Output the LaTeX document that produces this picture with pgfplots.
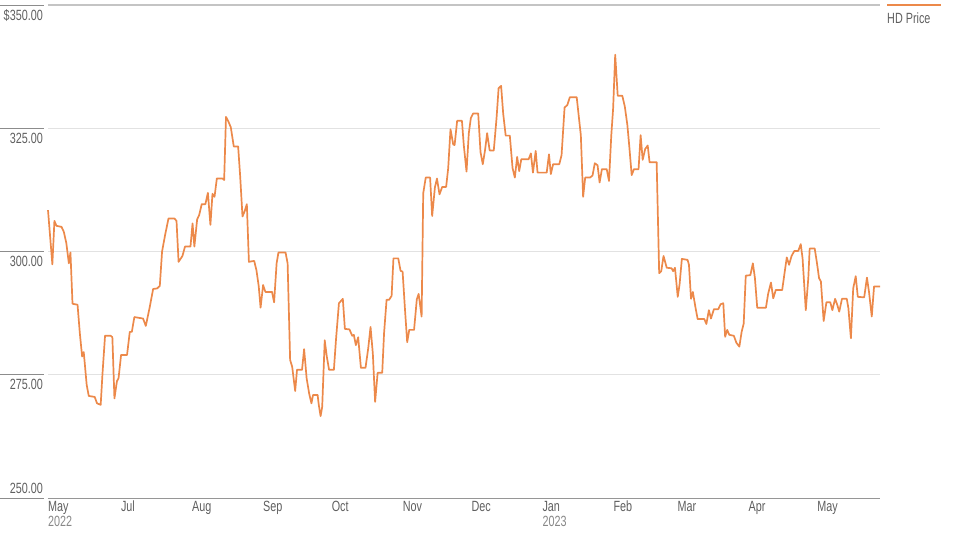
\documentclass[border=0pt]{standalone}
\usepackage{fontspec}
\setmainfont{Liberation Sans}[FakeStretch=0.73]
\usepackage{pgfplots}
\pgfplotsset{compat=1.18}
\definecolor{hdorange}{RGB}{236,137,74}
\definecolor{gridgray}{RGB}{226,226,226}
\definecolor{topgray}{RGB}{196,196,196}
\definecolor{tickgray}{RGB}{140,140,140}
\definecolor{labelgray}{RGB}{95,95,95}
\definecolor{yeargray}{RGB}{135,135,135}
\definecolor{axisgray}{RGB}{150,150,150}
\newcommand{\lbl}{\fontsize{14.8}{15.5}\selectfont}
\begin{document}
\begin{tikzpicture}
\useasboundingbox (0pt,0pt) rectangle (960pt,540pt);
\begin{axis}[
  at={(48pt,42pt)}, anchor=south west,
  scale only axis, width=832pt, height=493pt,
  xmin=29.2, xmax=392.4, ymin=250, ymax=350,
  axis x line*=bottom, axis y line*=left,
  x axis line style={draw=axisgray, line width=0.8pt},
  y axis line style={draw=none},
  major tick length=0pt,
  xtick={29.2,61,92,123,153,184,214,245,276,304,335,365},
  xticklabels={{May\\\textcolor{yeargray}{2022}},Jul,Aug,Sep,Oct,Nov,Dec,{Jan\\\textcolor{yeargray}{2023}},Feb,Mar,Apr,May},
  xticklabel style={anchor=north west, align=left, inner xsep=0pt, inner ysep=3pt, font=\lbl, text=labelgray},
  ytick={275,300,325,350},
  yticklabels={275.00,300.00,325.00,\$350.00},
  yticklabel style={anchor=north east, inner xsep=0pt, inner ysep=4.5pt, xshift=-5pt, font=\lbl, text=labelgray},
  extra y ticks={250},
  extra y tick labels={250.00},
  extra y tick style={yticklabel style={anchor=south east}, grid=none},
  ymajorgrids, grid style={draw=gridgray, line width=0.8pt},
  /pgf/number format/assume math mode=true,
  clip=false,
]
\draw[topgray, line width=1.6pt] (rel axis cs:0,1) -- (rel axis cs:1,1);
\addplot[hdorange, line width=1.7pt, line join=round] coordinates {
(29.2,308.4) (31.1,297.4) (32.0,306.2) (32.9,305.2) (35.1,305.0) (36.1,304.0) (37.2,301.7) (38.3,297.6) (39.0,299.8) (39.9,289.4)
(42.1,289.2) (43.1,283.4) (44.1,278.7) (44.8,279.6) (46.1,272.9) (47.0,270.7) (49.6,270.5) (50.6,269.2) (52.2,268.9) (53.0,275.3)
(54.1,282.9) (56.6,282.9) (57.3,282.6) (58.2,270.2) (59.3,273.7) (60.0,274.3) (61.1,279.0) (63.7,279.0) (64.9,283.7) (65.8,283.7)
(66.9,286.7) (70.7,286.4) (71.9,284.9) (73.6,288.7) (75.1,292.4) (76.8,292.5) (78.0,293.0) (79.0,300.0) (80.3,303.3) (81.8,306.7)
(84.4,306.7) (85.3,306.2) (86.2,297.9) (87.9,299.1) (89.0,301.0) (91.4,301.0) (92.3,305.7) (93.1,301.0) (94.3,306.5) (95.2,307.4)
(96.3,309.6) (97.9,309.6) (99.0,311.9) (100.1,305.4) (101.0,311.7) (101.9,311.1) (102.9,314.8) (105.4,314.8) (106.1,314.5) (106.9,327.3)
(108.0,326.3) (109.0,325.2) (110.3,321.3) (112.2,321.3) (113.1,315.2) (114.1,307.1) (115.0,308.1) (116.0,309.6) (116.9,297.9) (119.2,298.1)
(120.2,296.2) (121.2,292.9) (122.0,288.6) (123.1,293.2) (124.1,291.8) (127.0,291.8) (127.9,289.7) (129.0,297.6) (129.8,299.8) (132.9,299.8)
(133.8,297.6) (134.9,278.0) (135.8,276.6) (137.1,271.7) (137.9,276.0) (140.1,276.0) (141.0,280.2) (142.1,274.3) (143.2,271.2) (144.2,269.2)
(144.9,270.9) (146.9,270.9) (147.4,268.9) (148.2,266.6) (148.9,268.5) (150.0,282.0) (150.9,278.7) (151.9,276.0) (154.0,276.0) (154.9,282.0)
(156.2,289.5) (157.9,290.4) (158.8,284.3) (160.8,284.2) (162.0,282.9) (162.7,283.1) (163.6,281.0) (164.6,282.6) (165.8,276.4) (167.8,276.4)
(169.0,280.4) (170.0,284.7) (171.0,279.3) (172.0,269.5) (173.1,275.4) (175.1,275.4) (175.9,283.4) (177.0,290.2) (178.1,290.2) (179.2,291.0)
(180.0,298.6) (182.1,298.6) (183.1,296.1) (184.0,295.9) (185.0,288.5) (186.0,281.6) (186.9,284.1) (189.0,284.1) (190.2,290.3) (191.0,291.4)
(192.3,286.8) (193.0,311.8) (194.1,315.0) (196.0,315.0) (196.9,307.2) (198.1,313.0) (199.0,314.8) (200.1,311.6) (201.3,313.1) (203.0,313.1)
(203.9,316.9) (204.9,324.8) (206.1,321.7) (206.7,321.6) (207.8,326.5) (209.9,326.5) (210.7,321.6) (211.9,316.2) (212.9,324.0) (213.8,327.1)
(214.8,328.0) (217.0,328.0) (218.0,320.2) (219.0,317.7) (220.0,320.6) (220.9,324.0) (222.0,320.5) (223.8,320.5) (225.0,327.0) (225.9,333.1)
(227.0,333.6) (227.9,328.0) (229.0,323.5) (230.8,323.5) (232.0,316.9) (233.0,315.0) (234.0,319.2) (234.9,316.3) (235.8,318.7) (239.0,318.7)
(240.0,319.9) (240.9,316.0) (242.1,320.4) (242.9,316.0) (246.9,316.0) (247.9,319.7) (248.7,315.7) (249.7,317.7) (252.4,317.7) (253.4,319.6)
(254.7,329.2) (255.9,329.7) (257.0,331.3) (260.0,331.3) (261.0,327.0) (261.8,323.6) (262.8,311.1) (263.7,315.0) (265.8,315.0) (266.9,315.4)
(267.9,317.9) (269.1,317.5) (270.0,314.0) (271.0,316.7) (273.1,316.7) (274.1,314.3) (275.1,323.6) (275.9,329.0) (276.8,339.9) (277.9,331.6)
(279.9,331.6) (281.0,329.4) (282.1,325.7) (282.9,321.6) (284.0,315.5) (285.0,316.7) (287.0,316.7) (287.9,323.6) (288.8,318.6) (289.9,320.8)
(291.0,321.5) (291.8,318.1) (294.9,318.1) (296.0,295.6) (296.9,296.0) (297.9,299.1) (299.3,296.7) (301.4,296.6) (302.1,296.0) (302.9,296.7)
(304.1,290.8) (304.9,293.3) (305.9,298.5) (308.4,298.3) (309.0,297.3) (309.9,290.4) (310.7,291.8) (311.9,288.5) (312.8,286.3) (315.7,286.3)
(316.6,285.3) (317.7,288.1) (318.6,286.4) (319.9,288.3) (321.8,288.3) (322.8,289.3) (324.0,289.5) (324.8,282.7) (325.7,284.1) (326.6,283.1)
(328.6,282.9) (329.7,281.5) (331.0,280.7) (332.0,283.7) (332.9,285.4) (333.8,295.1) (335.8,295.2) (336.9,297.6) (337.8,294.6) (338.8,288.6)
(342.6,288.6) (343.6,291.5) (344.8,293.7) (345.8,290.5) (346.9,292.2) (349.7,292.2) (350.6,295.2) (351.7,298.8) (352.7,297.3) (353.8,299.1)
(355.0,300.1) (356.7,300.1) (357.8,301.5) (358.6,298.6) (360.0,288.1) (361.1,294.6) (361.7,300.6) (363.9,300.6) (364.8,297.9) (365.8,294.6)
(366.6,293.9) (367.8,285.9) (369.0,289.7) (370.7,289.7) (371.6,288.1) (372.8,290.4) (373.8,289.1) (374.6,287.8) (375.8,290.4) (377.9,290.4)
(378.6,288.5) (379.7,282.4) (380.7,292.5) (381.8,295.0) (382.7,290.8) (385.5,290.7) (386.7,294.7) (387.6,291.8) (388.8,286.8) (389.8,292.9)
(392.4,292.9)
};
\end{axis}
\foreach \yy in {535,411.75,288.5,165.25,42}
  \draw[tickgray, line width=0.8pt] (0pt,\yy pt) -- (44pt,\yy pt);
\draw[hdorange, line width=1.7pt] (887pt,535pt) -- (941pt,535pt);
\node[anchor=north west, inner sep=0pt, text=labelgray, font=\lbl] at (887pt,527pt) {HD Price};
\end{tikzpicture}
\end{document}
